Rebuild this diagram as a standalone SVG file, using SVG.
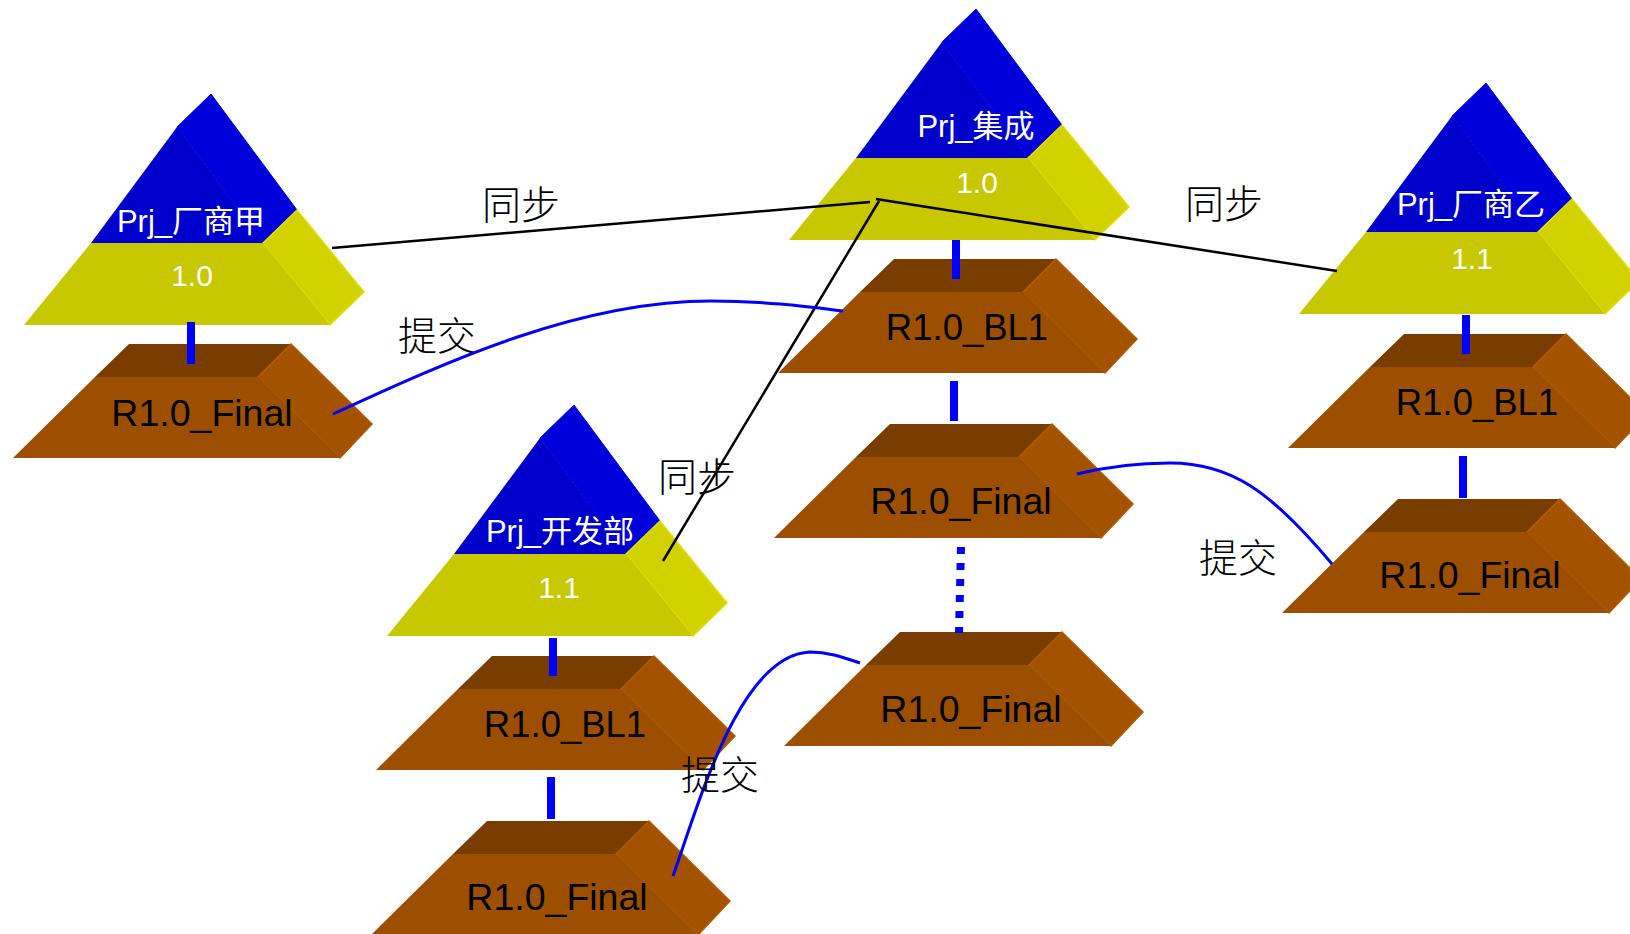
<svg xmlns="http://www.w3.org/2000/svg" xmlns:xlink="http://www.w3.org/1999/xlink" width="1630" height="934" viewBox="0 0 1630 934">
<style>
.bf{fill:#0000CC}
.bs{fill:#0000DA;stroke:#0000E6;stroke-width:1}
.yf{fill:#C8C800}
.ys{fill:#D2D200;stroke:#E2E200;stroke-width:1.5}
.bt{fill:#7A3D00}
.bx{fill:#9C4F00}
.bsd{fill:#A35300;stroke:#B25C00;stroke-width:1.5}
.lbl{font-family:"Liberation Sans","Noto Sans CJK SC",sans-serif;font-size:31px;fill:#FFFFFF;text-anchor:middle}
.ver{font-family:"Liberation Sans",Arial,sans-serif;font-size:30px;fill:#FFFFFF;text-anchor:middle}
.rel{font-family:"Liberation Sans",Arial,sans-serif;font-size:36.5px;fill:#000000;text-anchor:middle}
.fin{font-size:37.5px}
.cn{font-family:"Noto Sans CJK SC","Noto Sans CJK JP",sans-serif;font-size:39px;font-weight:300;fill:#000000}
.bar{fill:#0000FF}
.sync{stroke:#000000;stroke-width:2.5;fill:none}
.sub{stroke:#0000FF;stroke-width:3;fill:none}
</style>
<defs>
<g id="pyr">
<polygon class="bs" points="0,0 34,-33 120,83 86,116"/>
<polygon class="bf" points="0,0 -86,116 86,116"/>
<polygon class="ys" points="86,116 120,83 187,165 153,198"/>
<polygon class="yf" points="-86,116 86,116 153,198 -153,198"/>
</g>
<g id="box">
<polygon class="bt" points="0,0 162,0 129,33 -34,33"/>
<polygon class="bsd" points="129,33 162,0 243,80 211,114"/>
<polygon class="bx" points="-34,33 129,33 211,114 -116,114"/>
</g>
</defs>
<rect width="1630" height="934" fill="#FFFFFF"/>

<g id="prj-jia">
<use xlink:href="#pyr" x="177" y="127"/>
<text class="lbl" x="191" y="232">Prj_厂商甲</text>
<text class="ver" x="192" y="286">1.0</text>
</g>
<g id="jia-final">
<use xlink:href="#box" x="129" y="344"/>
<text class="rel fin" x="202" y="426">R1.0_Final</text>
</g>

<g id="prj-jicheng">
<use xlink:href="#pyr" x="942" y="42"/>
<text class="lbl" x="976" y="137">Prj_集成</text>
<text class="ver" x="977" y="193">1.0</text>
</g>
<g id="jc-bl1">
<use xlink:href="#box" x="894" y="259"/>
<text class="rel" x="967" y="340">R1.0_BL1</text>
</g>
<g id="jc-final1">
<use xlink:href="#box" x="890" y="424"/>
<text class="rel fin" x="961" y="514">R1.0_Final</text>
</g>
<g id="jc-final2">
<use xlink:href="#box" x="900" y="632"/>
<text class="rel fin" x="971" y="722">R1.0_Final</text>
</g>

<g id="prj-yi">
<use xlink:href="#pyr" x="1452" y="116"/>
<text class="lbl" x="1471" y="215">Prj_厂商乙</text>
<text class="ver" x="1472" y="269">1.1</text>
</g>
<g id="yi-bl1">
<use xlink:href="#box" x="1404" y="334"/>
<text class="rel" x="1477" y="415">R1.0_BL1</text>
</g>
<g id="yi-final">
<use xlink:href="#box" x="1398" y="499"/>
<text class="rel fin" x="1470" y="588">R1.0_Final</text>
</g>

<g id="prj-kaifa">
<use xlink:href="#pyr" x="540" y="438"/>
<text class="lbl" x="560" y="542">Prj_开发部</text>
<text class="ver" x="559" y="598">1.1</text>
</g>
<g id="kf-bl1">
<use xlink:href="#box" x="492" y="656"/>
<text class="rel" x="565" y="737">R1.0_BL1</text>
</g>
<g id="kf-final">
<use xlink:href="#box" x="487" y="821"/>
<text class="rel fin" x="557" y="910">R1.0_Final</text>
</g>

<g id="connectors">
<rect class="bar" x="187" y="322" width="8" height="42"/>
<rect class="bar" x="952" y="240" width="8" height="39"/>
<rect class="bar" x="950" y="381" width="8" height="40"/>
<line x1="961" y1="547" x2="959" y2="633" stroke="#0000FF" stroke-width="8" stroke-dasharray="7 9"/>
<rect class="bar" x="1462" y="315" width="8" height="39"/>
<rect class="bar" x="1459" y="456" width="8" height="42"/>
<rect class="bar" x="549" y="638" width="8" height="38"/>
<rect class="bar" x="547" y="777" width="8" height="42"/>

<line class="sync" x1="332" y1="248" x2="870" y2="202"/>
<line class="sync" x1="876" y1="199" x2="1337" y2="271"/>
<line class="sync" x1="879" y1="201" x2="663" y2="561"/>

<path class="sub" d="M333,414 C450,360 580,301 711,301 C765,301 810,307 843,311"/>
<path class="sub" d="M1077,474 C1110,466 1140,463 1170,463 C1230,463 1270,490 1332,564"/>
<path class="sub" d="M673,876 C700,800 740,655 810,652 C830,652 845,658 860,663"/>

<text class="cn" x="482" y="219">同步</text>
<text class="cn" x="1185" y="218">同步</text>
<text class="cn" x="658" y="491">同步</text>
<text class="cn" x="398" y="350">提交</text>
<text class="cn" x="1199" y="572">提交</text>
<text class="cn" x="681" y="789">提交</text>
</g>
</svg>
